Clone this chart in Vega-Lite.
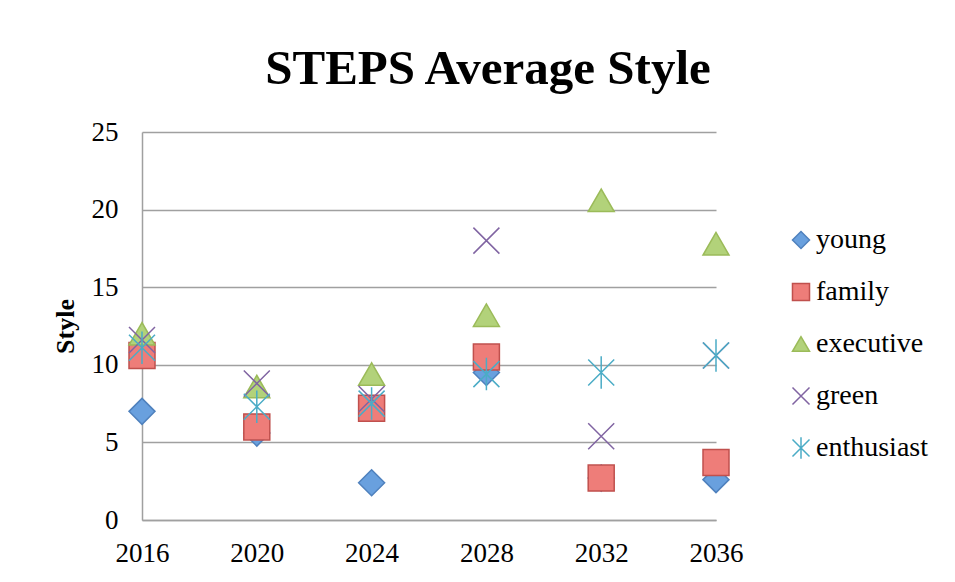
{
  "$schema": "https://vega.github.io/schema/vega-lite/v6.json",
  "width": 574,
  "height": 388,
  "autosize": "none",
  "padding": {"left": 142, "top": 132, "right": 239, "bottom": 62},
  "background": "white",
  "title": {
    "text": "STEPS Average Style",
    "font": "Liberation Serif",
    "fontSize": 49,
    "fontWeight": "bold",
    "color": "black",
    "anchor": "middle",
    "frame": "group",
    "baseline": "alphabetic",
    "offset": -15,
    "dx": 59
  },
  "config": {
    "view": {"stroke": null},
    "font": "Liberation Serif"
  },
  "data": {
    "values": [
      {"year": 2016, "series": "young", "value": 7.0},
      {"year": 2020, "series": "young", "value": 5.6},
      {"year": 2024, "series": "young", "value": 2.4},
      {"year": 2028, "series": "young", "value": 9.5},
      {"year": 2032, "series": "young", "value": 2.7},
      {"year": 2036, "series": "young", "value": 2.6},
      {"year": 2016, "series": "family", "value": 10.6},
      {"year": 2020, "series": "family", "value": 6.0},
      {"year": 2024, "series": "family", "value": 7.2},
      {"year": 2028, "series": "family", "value": 10.5},
      {"year": 2032, "series": "family", "value": 2.7},
      {"year": 2036, "series": "family", "value": 3.7},
      {"year": 2016, "series": "executive", "value": 12.0},
      {"year": 2020, "series": "executive", "value": 8.6},
      {"year": 2024, "series": "executive", "value": 9.4},
      {"year": 2028, "series": "executive", "value": 13.2},
      {"year": 2032, "series": "executive", "value": 20.6},
      {"year": 2036, "series": "executive", "value": 17.8},
      {"year": 2016, "series": "green", "value": 11.6},
      {"year": 2020, "series": "green", "value": 8.8},
      {"year": 2024, "series": "green", "value": 7.8},
      {"year": 2028, "series": "green", "value": 18.0},
      {"year": 2032, "series": "green", "value": 5.4},
      {"year": 2036, "series": "green", "value": 10.6},
      {"year": 2016, "series": "enthusiast", "value": 11.1},
      {"year": 2020, "series": "enthusiast", "value": 7.3},
      {"year": 2024, "series": "enthusiast", "value": 7.5},
      {"year": 2028, "series": "enthusiast", "value": 9.4},
      {"year": 2032, "series": "enthusiast", "value": 9.5},
      {"year": 2036, "series": "enthusiast", "value": 10.6}
    ]
  },
  "mark": {"type": "point", "filled": true, "size": 676, "strokeWidth": 1.5, "opacity": 1},
  "encoding": {
    "x": {
      "field": "year",
      "type": "quantitative",
      "scale": {"domain": [2016, 2036], "nice": false, "zero": false},
      "axis": {
        "values": [2016, 2020, 2024, 2028, 2032, 2036],
        "format": "d",
        "title": null,
        "grid": false,
        "ticks": false,
        "labelFlush": false,
        "labelOverlap": false,
        "domainColor": "#a0a0a0",
        "domainWidth": 1.5,
        "labelFont": "Liberation Serif",
        "labelFontSize": 27,
        "labelColor": "black",
        "labelPadding": 20
      }
    },
    "y": {
      "field": "value",
      "type": "quantitative",
      "scale": {"domain": [0, 25], "nice": false},
      "axis": {
        "values": [0, 5, 10, 15, 20, 25],
        "title": "Style",
        "titleFont": "Liberation Serif",
        "titleFontSize": 26,
        "titleFontWeight": "bold",
        "titleColor": "black",
        "titleAngle": -90,
        "titleBaseline": "middle",
        "titleX": -77,
        "titleY": 194,
        "titleAlign": "center",
        "grid": true,
        "gridColor": "#a0a0a0",
        "gridWidth": 1.5,
        "ticks": false,
        "domainColor": "#a0a0a0",
        "domainWidth": 1.5,
        "labelFont": "Liberation Serif",
        "labelFontSize": 27,
        "labelColor": "black",
        "labelPadding": 24
      }
    },
    "shape": {
      "field": "series",
      "type": "nominal",
      "scale": {
        "domain": ["young", "family", "executive", "green", "enthusiast"],
        "range": ["diamond", "square", "triangle-up", "M-1,-1L1,1M-1,1L1,-1", "M-1,-1L1,1M-1,1L1,-1M0,-1.25L0,1.25"]
      },
      "legend": {
        "title": null,
        "orient": "none",
        "legendX": 645,
        "legendY": 94,
        "labelFont": "Liberation Serif",
        "labelFontSize": 28,
        "labelColor": "black",
        "symbolSize": 290,
        "symbolStrokeWidth": 1.5,
        "rowPadding": 24,
        "labelOffset": 1
      }
    },
    "fill": {
      "field": "series",
      "type": "nominal",
      "scale": {
        "domain": ["young", "family", "executive", "green", "enthusiast"],
        "range": ["#69a0de", "#ee7d79", "#b2d27a", "transparent", "transparent"]
      },
      "legend": {
        "title": null,
        "orient": "none",
        "legendX": 645,
        "legendY": 94,
        "labelFont": "Liberation Serif",
        "labelFontSize": 28,
        "labelColor": "black",
        "symbolSize": 290,
        "symbolStrokeWidth": 1.5,
        "rowPadding": 24,
        "labelOffset": 1
      }
    },
    "stroke": {
      "field": "series",
      "type": "nominal",
      "scale": {
        "domain": ["young", "family", "executive", "green", "enthusiast"],
        "range": ["#4f81bd", "#c0504d", "#9bbb59", "#8064a2", "#4bacc6"]
      },
      "legend": {
        "title": null,
        "orient": "none",
        "legendX": 645,
        "legendY": 94,
        "labelFont": "Liberation Serif",
        "labelFontSize": 28,
        "labelColor": "black",
        "symbolSize": 290,
        "symbolStrokeWidth": 1.5,
        "rowPadding": 24,
        "labelOffset": 1
      }
    }
  }
}
